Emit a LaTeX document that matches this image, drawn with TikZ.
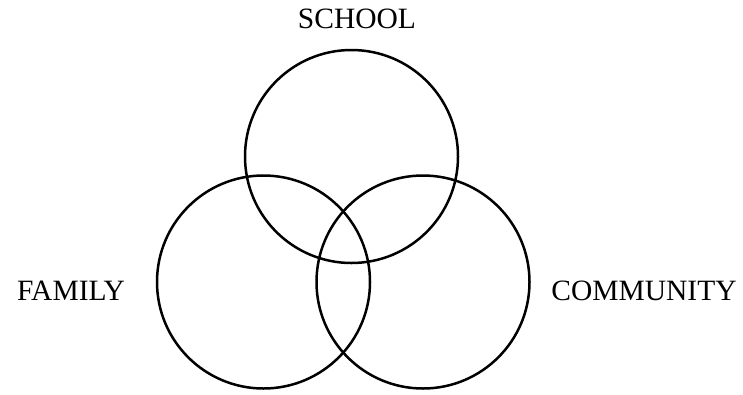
\documentclass[tikz,border=0pt]{standalone}
\usepackage{fontspec}
\setmainfont{Liberation Serif}
\usetikzlibrary{positioning}

\begin{document}
\begin{tikzpicture}[x=1pt,y=-1pt,
  ring/.style={draw,circle,line width=2.5pt,minimum size=213pt,inner sep=0pt},
  lbl/.style={anchor=base,inner sep=0pt,font=\fontsize{29.5}{35}\selectfont}]
\useasboundingbox (0,0) rectangle (743,394);
\node[ring] (school) at (351.5,156.5) {};
\node[ring] (family) at (263.5,282) {};
\node[ring] (community) at (423,282) {};
\node[lbl] (tschool) at (357,28) {SCHOOL};
\node[lbl] (tfamily) at (71,300) {FAMILY};
\node[lbl] (tcommunity) at (644,300) {COMMUNITY};
\end{tikzpicture}
\end{document}
